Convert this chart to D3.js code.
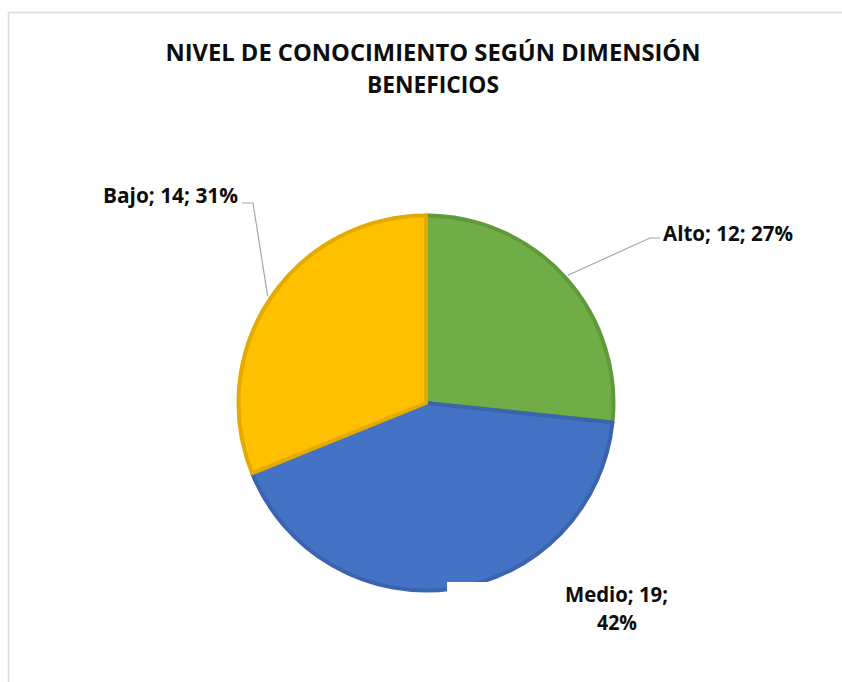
<!DOCTYPE html>
<html><head><meta charset="utf-8">
<script src="https://cdn.jsdelivr.net/npm/d3@7"></script>
<style>body{margin:0;background:#fff}svg{display:block}</style>
</head><body>
<svg id="c" width="842" height="682"></svg>
<script>
const categories = ["Alto", "Medio", "Bajo"];
const values = [12, 19, 14];
const percents = ["27%", "42%", "31%"];
const colors = ["#70AD47", "#4472C4", "#FFC000"];
const edges = ["#5F9A3A", "#3B64AE", "#E3AA00"];
const titleLines = ["NIVEL DE CONOCIMIENTO SEGÚN DIMENSIÓN", "BENEFICIOS"];

const svg = d3.select("#c");
svg.append("rect").attr("x", 8.5).attr("y", 12.5).attr("width", 900).attr("height", 700)
  .attr("fill", "#fff").attr("stroke", "#dcdcdc").attr("stroke-width", 1.5);

const font = "'Open Sans', 'Liberation Sans', sans-serif";
svg.append("text").attr("x", 433).attr("y", 61).attr("text-anchor", "middle")
  .attr("font-family", font).attr("font-weight", "bold").attr("font-size", 24)
  .attr("fill", "#0d0d0d")
  .attr("textLength", 535).attr("lengthAdjust", "spacingAndGlyphs")
  .text(titleLines[0]);
svg.append("text").attr("x", 433).attr("y", 93).attr("text-anchor", "middle")
  .attr("font-family", font).attr("font-weight", "bold").attr("font-size", 24)
  .attr("fill", "#0d0d0d")
  .attr("textLength", 132).attr("lengthAdjust", "spacingAndGlyphs")
  .text(titleLines[1]);

const cx = 426, cy = 403, R = 189;
const data = categories.map((c, i) => ({cat: c, v: values[i], p: percents[i], i}));
const pie = d3.pie().value(d => d.v).sort(null);
const arcs = pie(data);
const arc = d3.arc().innerRadius(0).outerRadius(R - 1.5);
const g = svg.append("g").attr("transform", `translate(${cx},${cy})`);
g.selectAll("path").data(arcs).join("path")
  .attr("d", arc)
  .attr("fill", d => colors[d.data.i])
  .attr("stroke", d => edges[d.data.i])
  .attr("stroke-width", 4)
  .attr("stroke-linejoin", "round");

// white label background artifact near Medio
svg.append("rect").attr("x", 447).attr("y", 582).attr("width", 110).attr("height", 24).attr("fill", "#fff");

// leader lines & labels
const labelCfg = {
  "Alto":  {bend: [650 - cx, 238 - cy], end: [660 - cx, 238 - cy], tx: 663 - cx, ty: 241 - cy, anchor: "start", len: 130},
  "Medio": {bend: [557 - cx, 595 - cy], end: [557 - cx, 595 - cy], tx: 565 - cx, ty: 602 - cy, anchor: "start", len: 103},
  "Bajo":  {bend: [253 - cx, 203 - cy], end: [242 - cx, 203 - cy], tx: 238 - cx, ty: 203 - cy, anchor: "end", len: 135}
};
arcs.forEach(a => {
  const cfg = labelCfg[a.data.cat];
  const ang = (a.startAngle + a.endAngle) / 2;
  const sx = (R + 2) * Math.sin(ang), sy = -(R + 2) * Math.cos(ang);
  g.append("polyline")
    .attr("points", [[sx, sy], cfg.bend, cfg.end].map(p => p.join(",")).join(" "))
    .attr("fill", "none").attr("stroke", "#a6a6a6").attr("stroke-width", 1.2);
  const t = g.append("text").attr("font-family", font).attr("font-weight", "bold")
    .attr("font-size", 20.5).attr("fill", "#0d0d0d").attr("text-anchor", cfg.anchor);
  if (a.data.cat === "Medio") {
    t.append("tspan").attr("x", cfg.tx).attr("y", cfg.ty)
      .attr("textLength", cfg.len).attr("lengthAdjust", "spacingAndGlyphs")
      .text(`${a.data.cat}; ${a.data.v};`);
    t.append("tspan").attr("x", cfg.tx + 52).attr("y", cfg.ty + 28).attr("text-anchor", "middle")
      .attr("textLength", 40).attr("lengthAdjust", "spacingAndGlyphs")
      .text(a.data.p);
  } else {
    t.attr("x", cfg.tx).attr("y", cfg.ty)
      .attr("textLength", cfg.len).attr("lengthAdjust", "spacingAndGlyphs")
      .text(`${a.data.cat}; ${a.data.v}; ${a.data.p}`);
  }
});
</script>
</body></html>
